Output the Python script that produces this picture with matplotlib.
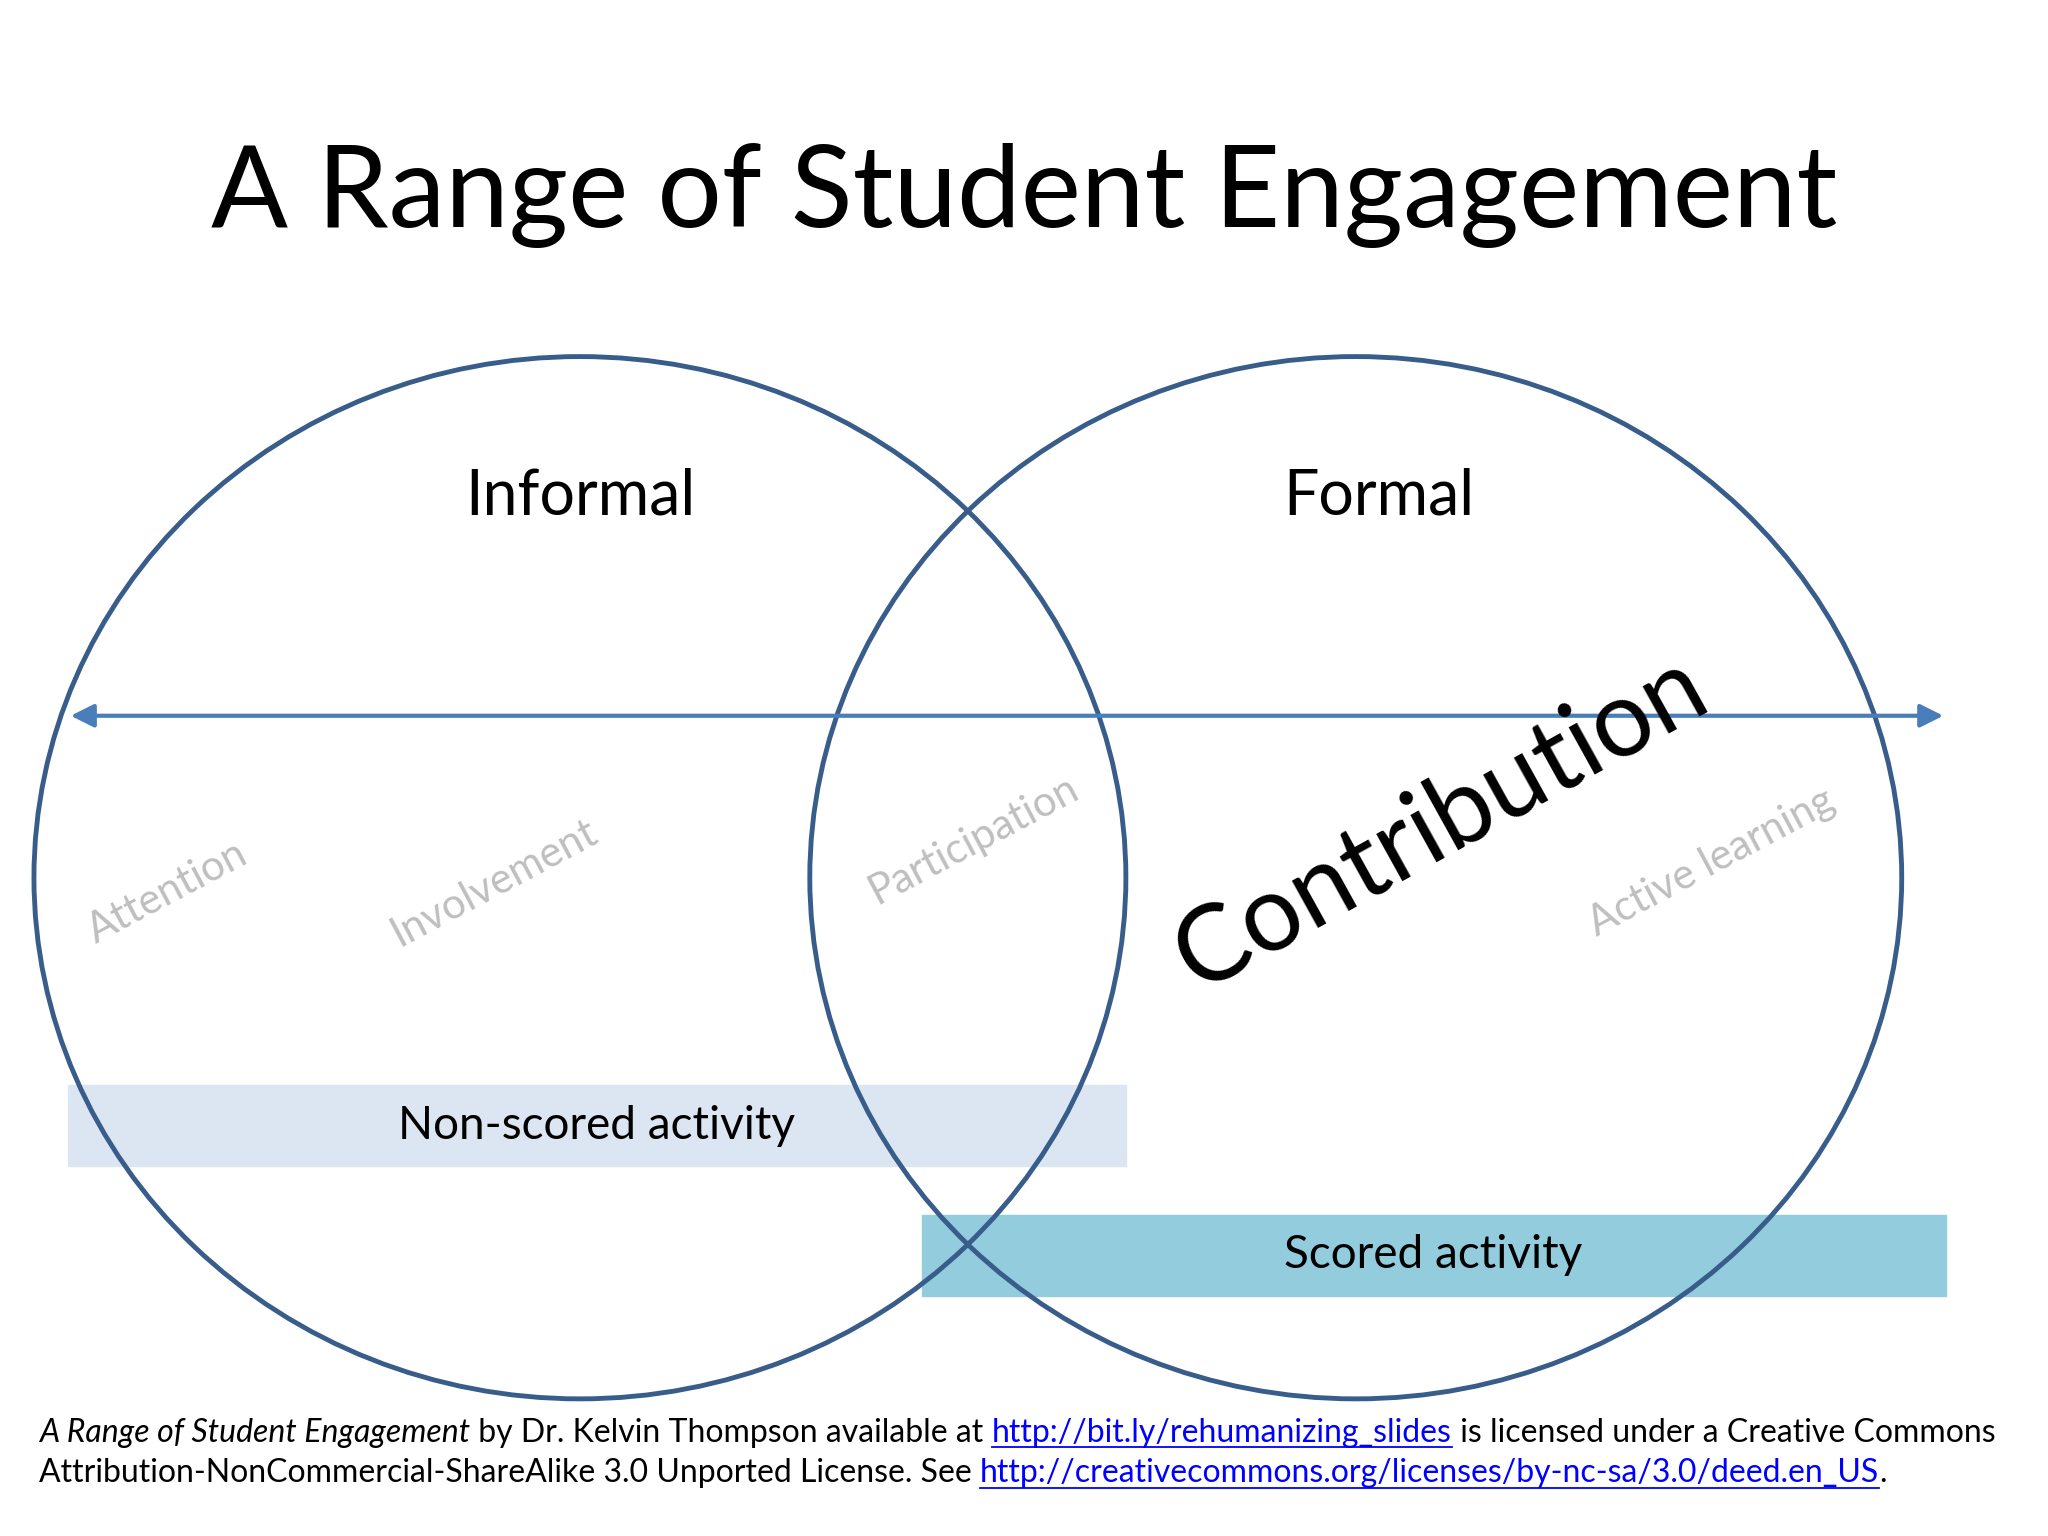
import matplotlib
matplotlib.use("Agg")
import matplotlib.pyplot as plt
from matplotlib.patches import Ellipse, Rectangle

plt.rcParams['font.family'] = ['Lato', 'DejaVu Sans']

W, H = 1568, 1176
title = "A Range of Student Engagement"
circle_labels = ["Informal", "Formal"]
circle_centers = [(444, 672), (1038, 672)]
circle_size = (836, 798)
gray_words = ["Attention", "Involvement", "Participation", "Active learning"]
gray_pos = [(128, 683), (378, 676), (745, 643), (1310, 660)]
bars = ["Non-scored activity", "Scored activity"]
bar_extent = [(52, 831, 810, 62), (706, 930, 784, 62)]
bar_label_x = [457, 1097]
bar_colors = ["#dce6f2", "#93cddd"]

fig = plt.figure(figsize=(20.48, 15.36), dpi=100)
ax = fig.add_axes([0, 0, 1, 1])
ax.set_xlim(0, W)
ax.set_ylim(H, 0)
ax.axis('off')

ax.text(784, 150, title, ha='center', va='center', fontsize=82)

for (x, y, w, h), c, lab, lx in zip(bar_extent, bar_colors, bars, bar_label_x):
    ax.add_patch(Rectangle((x, y), w, h, color=c, zorder=1))
    ax.text(lx, y + h / 2, lab, ha='center', va='center', fontsize=33, zorder=4)

for (cx, cy), lab in zip(circle_centers, circle_labels):
    ax.add_patch(Ellipse((cx, cy), *circle_size, fill=False, ec='#385d8a', lw=3.5, zorder=3))
    ax.text(cx + (0 if lab == "Informal" else 18), 380, lab, ha='center', va='center', fontsize=45)

ax.annotate('', xy=(1490, 548), xytext=(52, 548),
            arrowprops=dict(arrowstyle='<|-|>', color='#4a7ebb', lw=3, mutation_scale=35))

for word, (x, y) in zip(gray_words, gray_pos):
    ax.text(x, y, word, rotation=28, ha='center', va='center', fontsize=30, color='#bfbfbf')

ax.text(1103, 630, "Contribution", rotation=29, ha='center', va='center', fontsize=76)

# footer with italic title and underlined links
fig.canvas.draw()
r = fig.canvas.get_renderer()
inv = ax.transData.inverted()

def write_line(x, y, parts):
    for txt, style in parts:
        t = ax.text(x, y, txt, fontsize=23, va='baseline',
                    style='italic' if style == 'i' else 'normal',
                    color='#0000ff' if style == 'u' else 'black')
        bb = t.get_window_extent(r)
        x0, _ = inv.transform((bb.x0, bb.y0))
        x1, _ = inv.transform((bb.x1, bb.y0))
        if style == 'u':
            ax.plot([x0, x1], [y + 4, y + 4], color='#0000ff', lw=1.3)
        x = x1

write_line(30, 1104, [("A Range of Student Engagement", 'i'),
                      (" by Dr. Kelvin Thompson available at ", ''),
                      ("http://bit.ly/rehumanizing_slides", 'u'),
                      (" is licensed under a Creative Commons", '')])
write_line(30, 1135, [("Attribution-NonCommercial-ShareAlike 3.0 Unported License. See ", ''),
                      ("http://creativecommons.org/licenses/by-nc-sa/3.0/deed.en_US", 'u'),
                      (".", '')])

fig.savefig("out.png", dpi=100, facecolor='white')
